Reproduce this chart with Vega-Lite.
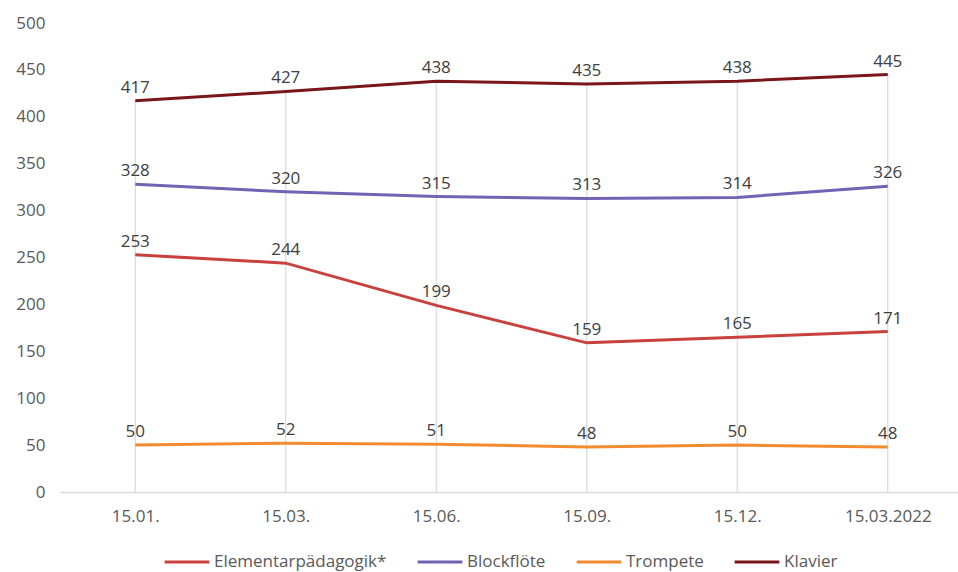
{
  "$schema": "https://vega.github.io/schema/vega-lite/v6.json",
  "width": 903,
  "height": 469,
  "autosize": "none",
  "padding": {"left": 60, "top": 23, "right": 0, "bottom": 80},
  "background": "white",
  "config": {"font": "Open Sans", "view": {"stroke": null}},
  "data": {
    "values": [
      {"date": "15.01.", "series": "Elementarpädagogik*", "value": 253},
      {"date": "15.03.", "series": "Elementarpädagogik*", "value": 244},
      {"date": "15.06.", "series": "Elementarpädagogik*", "value": 199},
      {"date": "15.09.", "series": "Elementarpädagogik*", "value": 159},
      {"date": "15.12.", "series": "Elementarpädagogik*", "value": 165},
      {"date": "15.03.2022", "series": "Elementarpädagogik*", "value": 171},
      {"date": "15.01.", "series": "Blockflöte", "value": 328},
      {"date": "15.03.", "series": "Blockflöte", "value": 320},
      {"date": "15.06.", "series": "Blockflöte", "value": 315},
      {"date": "15.09.", "series": "Blockflöte", "value": 313},
      {"date": "15.12.", "series": "Blockflöte", "value": 314},
      {"date": "15.03.2022", "series": "Blockflöte", "value": 326},
      {"date": "15.01.", "series": "Trompete", "value": 50},
      {"date": "15.03.", "series": "Trompete", "value": 52},
      {"date": "15.06.", "series": "Trompete", "value": 51},
      {"date": "15.09.", "series": "Trompete", "value": 48},
      {"date": "15.12.", "series": "Trompete", "value": 50},
      {"date": "15.03.2022", "series": "Trompete", "value": 48},
      {"date": "15.01.", "series": "Klavier", "value": 417},
      {"date": "15.03.", "series": "Klavier", "value": 427},
      {"date": "15.06.", "series": "Klavier", "value": 438},
      {"date": "15.09.", "series": "Klavier", "value": 435},
      {"date": "15.12.", "series": "Klavier", "value": 438},
      {"date": "15.03.2022", "series": "Klavier", "value": 445}
    ]
  },
  "encoding": {
    "x": {
      "field": "date",
      "type": "ordinal",
      "sort": null,
      "scale": {"type": "point", "padding": 0.5},
      "axis": {
        "title": null,
        "labelAngle": 0,
        "ticks": false,
        "grid": false,
        "domainColor": "#d9d9d9",
        "domainWidth": 1.5,
        "labelPadding": 16,
        "labelFontSize": 17,
        "labelColor": "#595959"
      }
    },
    "y": {
      "field": "value",
      "type": "quantitative",
      "scale": {"domain": [0, 500]},
      "axis": {
        "title": null,
        "values": [0, 50, 100, 150, 200, 250, 300, 350, 400, 450, 500],
        "grid": false,
        "domain": false,
        "ticks": false,
        "labelPadding": 15,
        "labelFontSize": 17,
        "labelColor": "#595959"
      }
    }
  },
  "layer": [
    {
      "transform": [{"filter": "datum.series === 'Klavier'"}],
      "mark": {"type": "rule", "color": "#d9d9d9", "strokeWidth": 1.2},
      "encoding": {"y2": {"datum": 0}}
    },
    {
      "mark": {"type": "line", "strokeWidth": 3},
      "encoding": {
        "color": {
          "field": "series",
          "type": "nominal",
          "scale": {
            "domain": ["Elementarpädagogik*", "Blockflöte", "Trompete", "Klavier"],
            "range": ["#C8413D", "#7262B4", "#F28B2F", "#7A1619"]
          },
          "legend": {
            "title": null,
            "orient": "none",
            "direction": "horizontal",
            "legendX": 103,
            "legendY": 515,
            "symbolType": "stroke",
            "symbolStrokeWidth": 3,
            "symbolSize": 2000,
            "labelFontSize": 17,
            "labelLimit": 0,
            "labelColor": "#595959",
            "labelOffset": 3,
            "columnPadding": 24
          }
        }
      }
    },
    {
      "mark": {"type": "text", "dy": -13, "fontSize": 17, "color": "#404040"},
      "encoding": {"text": {"field": "value", "type": "quantitative"}}
    }
  ]
}
